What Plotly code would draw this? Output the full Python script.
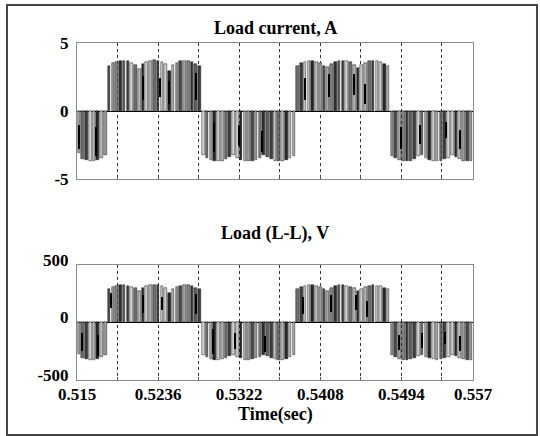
import plotly.graph_objects as go

# ---------------- data ----------------
time_s = [
    0.5152, 0.5156, 0.5160, 0.5164, 0.5168, 0.5172, 0.5176, 0.5180, 0.5184, 0.5188,
    0.5192, 0.5196, 0.5200, 0.5204, 0.5208, 0.5212, 0.5216, 0.5220, 0.5224, 0.5228,
    0.5232, 0.5236, 0.5240, 0.5244, 0.5248, 0.5252, 0.5256, 0.5260, 0.5264, 0.5268,
    0.5272, 0.5276, 0.5280, 0.5284, 0.5288, 0.5292, 0.5296, 0.5300, 0.5304, 0.5308,
    0.5312, 0.5316, 0.5320, 0.5324, 0.5328, 0.5332, 0.5336, 0.5340, 0.5344, 0.5348,
    0.5352, 0.5356, 0.5360, 0.5364, 0.5368, 0.5372, 0.5376, 0.5380, 0.5384, 0.5388,
    0.5392, 0.5396, 0.5400, 0.5404, 0.5408, 0.5412, 0.5416, 0.5420, 0.5424, 0.5428,
    0.5432, 0.5436, 0.5440, 0.5444, 0.5448, 0.5452, 0.5456, 0.5460, 0.5464, 0.5468,
    0.5472, 0.5476, 0.5480, 0.5484, 0.5488, 0.5492, 0.5496, 0.5500, 0.5504, 0.5508,
    0.5512, 0.5516, 0.5520, 0.5524, 0.5528, 0.5532, 0.5536, 0.5540, 0.5544, 0.5548,
    0.5552, 0.5556, 0.5560, 0.5564, 0.5568,
]

load_current_A = [
    -3.1, -3.5, -3.62, -3.7, -3.68, -3.6, -3.45, -3.2,
    3.3, 3.5, 3.62, 3.7, 3.7, 3.66, 3.55, 3.4, 3.1, 3.45, 3.6, 3.67, 3.72,
    3.68, 3.6, 3.45, 2.95, 3.38, 3.55, 3.65, 3.7, 3.68, 3.6, 3.48, 3.3,
    -3.25, -3.48, -3.6, -3.68, -3.7, -3.65, -3.52, -3.35, -3.2, -3.42, -3.58, -3.68,
    -3.7, -3.66, -3.58, -3.42, -3.22, -3.36, -3.52, -3.64, -3.7, -3.68, -3.6, -3.45, -3.28,
    3.3, 3.52, 3.64, 3.7, 3.68, 3.62, 3.5, 3.3, 3.2, 3.42, 3.6, 3.68, 3.7,
    3.66, 3.58, 3.4, 3.15, 3.36, 3.55, 3.66, 3.7, 3.67, 3.6, 3.46, 3.3,
    -3.28, -3.46, -3.6, -3.68, -3.7, -3.64, -3.5, -3.34, -3.2, -3.42, -3.58,
    -3.66, -3.7, -3.66, -3.56, -3.42, -3.2, -3.36, -3.52, -3.64, -3.7, -3.68,
]

load_voltage_V = [
    -270, -305, -318, -325, -322, -315, -300, -280,
    288, 305, 318, 325, 326, 320, 310, 296, 272, 300, 315, 322, 326,
    322, 315, 300, 260, 295, 312, 320, 325, 322, 316, 303, 288,
    -285, -303, -315, -322, -325, -320, -308, -292, -280, -298, -312, -322,
    -325, -320, -312, -298, -282, -294, -308, -318, -325, -322, -315, -302, -286,
    288, 307, 318, 324, 322, 316, 305, 288, 278, 298, 315, 322, 326,
    320, 312, 296, 275, 294, 310, 320, 325, 320, 314, 302, 288,
    -286, -302, -315, -322, -325, -318, -305, -290, -280, -298, -312,
    -320, -325, -320, -310, -298, -280, -294, -308, -318, -324, -322,
]

# dark inner strokes visible inside the pulse trains
cur_stroke_t = [0.5152, 0.5170, 0.5220, 0.5238, 0.5248, 0.5276, 0.5296, 0.5322, 0.5346,
                0.5392, 0.5418, 0.5444, 0.5456, 0.5494, 0.5514, 0.5542, 0.5556]
cur_stroke_lo = [-1.0, -1.2, 0.8, 1.0, 0.5, 0.8, -0.8, -1.0, -1.5,
                 0.8, 1.0, 1.2, 0.5, -1.2, -1.0, -0.8, -1.4]
cur_stroke_hi = [-2.8, -3.3, 2.6, 2.4, 2.2, 2.8, -3.0, -2.6, -3.0,
                 2.4, 2.7, 2.7, 2.0, -2.8, -2.4, -2.0, -2.8]

volt_stroke_t = [0.5156, 0.5172, 0.5186, 0.5220, 0.5240, 0.5276, 0.5294, 0.5318, 0.5350,
                 0.5390, 0.5420, 0.5446, 0.5458, 0.5492, 0.5516, 0.5540, 0.5556]
volt_stroke_lo = [-90, -110, 130, 80, 110, 70, -60, -90, -120,
                  70, 90, 110, 50, -110, -90, -80, -120]
volt_stroke_hi = [-250, -290, 260, 240, 220, 250, -270, -230, -260,
                  220, 240, 240, 190, -240, -220, -190, -250]

grid_ticks = [0.515, 0.5193, 0.5236, 0.5279, 0.5322, 0.5365, 0.5408,
              0.5451, 0.5494, 0.5537, 0.557]
grid_labels = ["0.515", "", "0.5236", "", "0.5322", "", "0.5408", "", "0.5494", "", "0.557"]
cur_ticks = [-5, 0, 5]
cur_tick_labels = ["-5", "0", "5"]
volt_ticks = [-500, 0, 500]
volt_tick_labels = ["-500", "0", "500"]

# ---------------- figure ----------------
palette = ["#b4b4b4", "#3c3c3c", "#cbcbcb", "#6e6e6e", "#9c9c9c", "#262626", "#d4d4d4",
           "#858585", "#4a4a4a", "#bdbdbd", "#2f2f2f", "#a4a4a4", "#5e5e5e"]
shade_order = [0, 3, 1, 6, 2, 5, 9, 4, 8, 11, 7, 10, 12, 1, 6, 3, 0, 5, 2]
bar_colors = [palette[shade_order[i % len(shade_order)]] for i in range(len(time_s))]

FONT = "Liberation Serif, Times New Roman, serif"
FS = 18
TFS = 17

fig = go.Figure()

fig.add_trace(go.Bar(x=time_s, y=load_current_A, width=0.00028,
                     marker=dict(color=bar_colors, line=dict(color="#1a1a1a", width=0.5)),
                     xaxis="x", yaxis="y", showlegend=False))
fig.add_trace(go.Bar(x=cur_stroke_t, base=cur_stroke_lo,
                     y=[h - l for h, l in zip(cur_stroke_hi, cur_stroke_lo)], width=0.00015,
                     marker=dict(color="black", line=dict(width=0)),
                     xaxis="x", yaxis="y", showlegend=False))

fig.add_trace(go.Bar(x=time_s, y=load_voltage_V, width=0.00028,
                     marker=dict(color=bar_colors, line=dict(color="#1a1a1a", width=0.5)),
                     xaxis="x2", yaxis="y2", showlegend=False))
fig.add_trace(go.Bar(x=volt_stroke_t, base=volt_stroke_lo,
                     y=[h - l for h, l in zip(volt_stroke_hi, volt_stroke_lo)], width=0.00015,
                     marker=dict(color="black", line=dict(width=0)),
                     xaxis="x2", yaxis="y2", showlegend=False))

xcommon = dict(range=[0.515, 0.557], tickvals=grid_ticks, showgrid=True, griddash="dot",
               gridcolor="#333333", gridwidth=1, showline=True, mirror=True,
               linecolor="#8a8a8a", linewidth=1, ticks="inside", ticklen=3,
               tickcolor="#555555", zeroline=False)
ycommon = dict(showgrid=False, showline=True, mirror=True, linecolor="#8a8a8a", linewidth=1,
               ticks="inside", ticklen=3, tickcolor="#555555", zeroline=True,
               zerolinecolor="black", zerolinewidth=1, ticklabelstandoff=4,
               tickfont=dict(family=FONT, size=TFS, color="black", weight="bold"))

top_dom = [0.5964, 1.0]
bot_dom = [0.0, 0.3412]

fig.update_layout(
    width=540, height=436,
    paper_bgcolor="white", plot_bgcolor="white",
    margin=dict(l=77, r=67, t=43, b=56, autoexpand=False),
    barmode="overlay", bargap=0,
    font=dict(family=FONT, color="black"),
    xaxis=dict(**xcommon, anchor="y", showticklabels=False),
    yaxis=dict(**ycommon, domain=top_dom, range=[-5, 5], tickvals=cur_ticks,
               ticktext=cur_tick_labels, anchor="x"),
    xaxis2=dict(**xcommon, anchor="y2", ticktext=grid_labels, ticklabelstandoff=-1,
                tickfont=dict(family=FONT, size=TFS, color="black", weight="bold")),
    yaxis2=dict(**ycommon, domain=bot_dom, range=[-500, 500], tickvals=volt_ticks,
                ticktext=volt_tick_labels, anchor="x2", ticklabelshift=-5),
    annotations=[
        dict(text="<b>Load current, A</b>", xref="paper", yref="paper", x=0.5, y=1.0445,
             xanchor="center", yanchor="middle", showarrow=False,
             font=dict(family=FONT, size=FS, color="black")),
        dict(text="<b>Load (L-L), V</b>", xref="paper", yref="paper", x=0.5, y=0.4362,
             xanchor="center", yanchor="middle", showarrow=False,
             font=dict(family=FONT, size=FS, color="black")),
        dict(text="<b>Time(sec)</b>", xref="paper", yref="paper", x=0.5, y=-0.1010,
             xanchor="center", yanchor="middle", showarrow=False,
             font=dict(family=FONT, size=FS, color="black")),
    ],
    shapes=[
        dict(type="rect", xref="paper", yref="paper", x0=-0.1768, x1=1.1616,
             y0=-0.1632, y1=1.1128, line=dict(color="#444444", width=2),
             fillcolor="rgba(0,0,0,0)", layer="below"),
    ],
)

fig.write_html("out.html", config={"displayModeBar": False},
               post_script="document.body.style.margin='0px';")
